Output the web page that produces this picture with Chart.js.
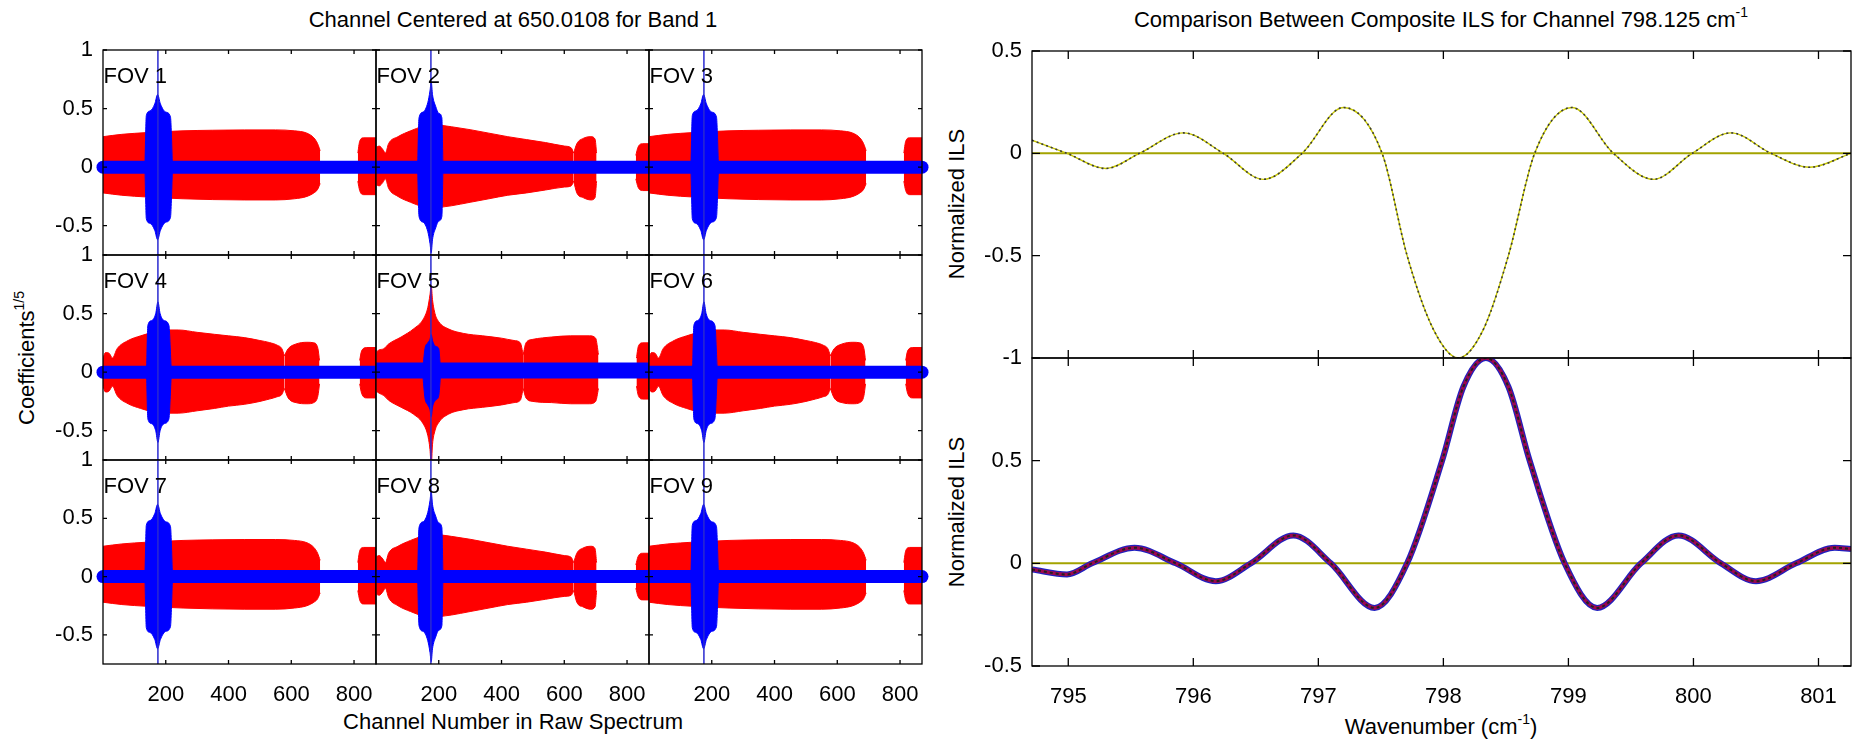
<!DOCTYPE html>
<html>
<head>
<meta charset="utf-8">
<script src="https://cdn.jsdelivr.net/npm/chart.js@4.4.0/dist/chart.umd.min.js"></script>
<style>
  body { margin: 0; background: #fff; width: 1861px; height: 742px; position: relative; overflow: hidden; }
  canvas { position: absolute; }
  .t { position: absolute; transform: translateX(-50%); white-space: nowrap; color: #000;
       font: 22px/1 "Liberation Sans", Arial, Helvetica, sans-serif; }
  .r { position: absolute; transform: translate(-50%, -50%) rotate(-90deg); white-space: nowrap; color: #000;
       font: 22px/1 "Liberation Sans", Arial, Helvetica, sans-serif; }
  sup { font-size: 14px; line-height: 0; vertical-align: 10px; }
</style>
</head>
<body>
<div class="t" style="left:513px;top:9px">Channel Centered at 650.0108 for Band 1</div>
<div class="t" style="left:1441px;top:9px">Comparison Between Composite ILS for Channel 798.125 cm<sup>-1</sup></div>
<div class="t" style="left:513px;top:711px">Channel Number in Raw Spectrum</div>
<div class="t" style="left:1441px;top:716px">Wavenumber (cm<sup>-1</sup>)</div>
<div class="r" style="left:27px;top:358px">Coefficients<sup>1/5</sup></div>
<div class="r" style="left:957px;top:204px">Normalized ILS</div>
<div class="r" style="left:957px;top:512px">Normalized ILS</div>

<script>
// ---- left block: 3x3 FOV panels, coefficients vs raw channel ----
const channelMin = 0, channelMax = 870;
const coefMin = -0.75, coefMax = 1;
const channelTicks = [200, 400, 600, 800];
const coefTicks = [-0.5, 0, 0.5, 1];
const fovNames = ['FOV 1', 'FOV 2', 'FOV 3', 'FOV 4', 'FOV 5', 'FOV 6', 'FOV 7', 'FOV 8', 'FOV 9'];
const fovShape = ['corner', 'edge', 'corner', 'side', 'center', 'side', 'corner', 'edge', 'corner'];
const bandLevel = [0, 0, 0, 0, 0.015, 0, 0, 0, 0];
const spikeChannel = 175;

// corner FOVs (1, 3, 7, 9)
const cornerMainCh  = [0, 60, 140, 255, 350, 450, 550, 610, 650, 672, 684, 692];
const cornerMainTop = [0.26, 0.28, 0.295, 0.31, 0.315, 0.318, 0.318, 0.31, 0.29, 0.25, 0.2, 0.14];
const cornerMainBot = [-0.22, -0.24, -0.255, -0.27, -0.277, -0.28, -0.28, -0.27, -0.25, -0.22, -0.19, -0.14];
const cornerTailCh  = [812, 818, 830, 870];
const cornerTailTop = [0.12, 0.22, 0.25, 0.25];
const cornerTailBot = [-0.12, -0.2, -0.235, -0.235];
const cornerBlueCh  = [134, 138, 150, 165, 174, 183, 200, 215, 221];
const cornerBlueTop = [0.05, 0.44, 0.48, 0.54, 0.62, 0.54, 0.47, 0.43, 0.05];
const cornerBlueBot = [-0.05, -0.44, -0.48, -0.54, -0.62, -0.54, -0.47, -0.43, -0.05];

// top / bottom edge FOVs (2, 8)
const edgeMainCh  = [0, 10, 22, 30, 40, 70, 110, 150, 175, 200, 240, 300, 360, 420, 480, 540, 600, 622, 630];
const edgeMainTop = [0.17, 0.18, 0.15, 0.12, 0.2, 0.26, 0.31, 0.35, 0.37, 0.36, 0.345, 0.32, 0.29, 0.26, 0.235, 0.21, 0.18, 0.165, 0.12];
const edgeMainBot = [-0.15, -0.16, -0.13, -0.1, -0.18, -0.25, -0.3, -0.34, -0.36, -0.345, -0.33, -0.3, -0.27, -0.24, -0.22, -0.195, -0.17, -0.16, -0.12];
const edgeLobeCh  = [630, 640, 660, 685, 698, 703];
const edgeLobeTop = [0.12, 0.2, 0.245, 0.26, 0.24, 0.12];
const edgeLobeBot = [-0.12, -0.22, -0.26, -0.28, -0.26, -0.12];
const edgeTailCh  = [828, 835, 850, 870];
const edgeTailTop = [0.1, 0.17, 0.2, 0.2];
const edgeTailBot = [-0.1, -0.17, -0.2, -0.2];
const edgeBlueCh  = [133, 137, 150, 165, 172, 176, 180, 190, 200, 210, 213];
const edgeBlueTop = [0.05, 0.42, 0.47, 0.55, 0.65, 0.73, 0.62, 0.52, 0.46, 0.42, 0.05];
const edgeBlueBot = [-0.05, -0.42, -0.47, -0.55, -0.65, -0.73, -0.62, -0.52, -0.46, -0.42, -0.05];

// left / right side FOVs (4, 6)
const sideMainCh  = [0, 8, 20, 30, 45, 80, 120, 160, 200, 240, 300, 355, 400, 450, 500, 530, 555, 570, 578];
const sideMainTop = [0.12, 0.167, 0.16, 0.12, 0.2, 0.27, 0.31, 0.34, 0.36, 0.36, 0.34, 0.323, 0.31, 0.295, 0.27, 0.253, 0.23, 0.2, 0.14];
const sideMainBot = [-0.12, -0.17, -0.16, -0.12, -0.2, -0.27, -0.31, -0.34, -0.35, -0.35, -0.33, -0.31, -0.29, -0.275, -0.25, -0.23, -0.21, -0.19, -0.14];
const sideLobeCh  = [578, 590, 615, 650, 672, 685, 690];
const sideLobeTop = [0.14, 0.2, 0.24, 0.255, 0.25, 0.2, 0.1];
const sideLobeBot = [-0.14, -0.22, -0.26, -0.27, -0.26, -0.2, -0.1];
const sideTailCh  = [818, 824, 840, 870];
const sideTailTop = [0.1, 0.18, 0.21, 0.21];
const sideTailBot = [-0.1, -0.18, -0.22, -0.22];
const sideBlueCh  = [139, 143, 155, 168, 175, 182, 195, 210, 217];
const sideBlueTop = [0.05, 0.4, 0.44, 0.5, 0.6, 0.5, 0.44, 0.4, 0.05];
const sideBlueBot = [-0.05, -0.4, -0.44, -0.5, -0.6, -0.5, -0.44, -0.4, -0.05];

// centre FOV (5)
const centerMainCh  = [0, 10, 25, 40, 80, 120, 150, 165, 172, 176, 180, 188, 200, 230, 280, 340, 400, 440, 460, 469];
const centerMainTop = [0.17, 0.19, 0.2, 0.24, 0.3, 0.37, 0.45, 0.55, 0.66, 0.74, 0.62, 0.5, 0.43, 0.37, 0.33, 0.31, 0.29, 0.27, 0.25, 0.15];
const centerMainBot = [-0.16, -0.18, -0.2, -0.24, -0.3, -0.36, -0.44, -0.54, -0.66, -0.8, -0.62, -0.5, -0.43, -0.36, -0.32, -0.3, -0.28, -0.26, -0.24, -0.14];
const centerLobeCh  = [469, 478, 500, 560, 620, 680, 700, 709];
const centerLobeTop = [0.15, 0.25, 0.28, 0.3, 0.31, 0.31, 0.29, 0.15];
const centerLobeBot = [-0.14, -0.22, -0.25, -0.26, -0.27, -0.27, -0.25, -0.14];
const centerTailCh  = [830, 836, 850, 870];
const centerTailTop = [0.12, 0.22, 0.25, 0.25];
const centerTailBot = [-0.12, -0.2, -0.23, -0.23];
const centerBlueCh  = [150, 156, 165, 172, 176, 180, 190, 200, 205];
const centerBlueTop = [0.05, 0.2, 0.25, 0.28, 0.32, 0.27, 0.22, 0.2, 0.05];
const centerBlueBot = [-0.05, -0.22, -0.28, -0.32, -0.38, -0.3, -0.24, -0.2, -0.05];

// ---- right block: composite ILS vs wavenumber ----
const waveMin = 794.71, waveMax = 801.26;
const waveTicks = [795, 796, 797, 798, 799, 800, 801];
const ilsTopTicks = [-1, -0.5, 0, 0.5];
const ilsBottomTicks = [-0.5, 0, 0.5];
const topWave = [794.71, 794.99, 795.3, 795.57, 795.92, 796.24, 796.56, 796.87, 797.2, 797.51, 797.71, 797.92, 798.12, 798.32, 798.52, 798.73, 799.03, 799.36, 799.68, 799.99, 800.3, 800.62, 800.93, 801.26];
const topIls  = [0.064, 0, -0.074, 0, 0.1, 0, -0.127, 0, 0.224, 0, -0.5, -0.86, -1.0, -0.86, -0.5, 0, 0.224, 0, -0.127, 0, 0.1, 0, -0.068, 0];
const bottomWave = [794.71, 794.99, 795.19, 795.53, 795.86, 796.18, 796.46, 796.8, 797.1, 797.45, 797.71, 797.99, 798.16, 798.34, 798.52, 798.69, 798.97, 799.23, 799.58, 799.88, 800.22, 800.5, 800.82, 801.13, 801.26];
const bottomIls  = [-0.03, -0.054, 0, 0.076, 0, -0.087, 0, 0.136, 0, -0.217, 0, 0.5, 0.86, 1.0, 0.86, 0.5, 0, -0.217, 0, 0.136, 0, -0.087, 0, 0.076, 0.07];

Chart.defaults.font.family = '"Liberation Sans", Arial, Helvetica, sans-serif';
Chart.defaults.font.size = 22;
Chart.defaults.color = '#000';

const shapes = {
  corner: { red: [[cornerMainCh, cornerMainTop, cornerMainBot], [cornerTailCh, cornerTailTop, cornerTailBot]],
            blue: [cornerBlueCh, cornerBlueTop, cornerBlueBot] },
  edge:   { red: [[edgeMainCh, edgeMainTop, edgeMainBot], [edgeLobeCh, edgeLobeTop, edgeLobeBot], [edgeTailCh, edgeTailTop, edgeTailBot]],
            blue: [edgeBlueCh, edgeBlueTop, edgeBlueBot] },
  side:   { red: [[sideMainCh, sideMainTop, sideMainBot], [sideLobeCh, sideLobeTop, sideLobeBot], [sideTailCh, sideTailTop, sideTailBot]],
            blue: [sideBlueCh, sideBlueTop, sideBlueBot] },
  center: { red: [[centerMainCh, centerMainTop, centerMainBot], [centerLobeCh, centerLobeTop, centerLobeBot], [centerTailCh, centerTailTop, centerTailBot]],
            blue: [centerBlueCh, centerBlueTop, centerBlueBot] }
};

// box, inward ticks and the FOV name
const framePlugin = {
  id: 'frame',
  afterDatasetsDraw(chart, args, opts) {
    const { ctx, chartArea: a } = chart;
    const x = chart.scales.x, y = chart.scales.y;
    ctx.save();
    ctx.strokeStyle = '#000';
    ctx.lineWidth = 1.3;
    ctx.strokeRect(a.left, a.top, a.right - a.left, a.bottom - a.top);
    ctx.beginPath();
    opts.xTicks.forEach(v => {
      const px = x.getPixelForValue(v);
      ctx.moveTo(px, a.bottom); ctx.lineTo(px, a.bottom - opts.len);
      ctx.moveTo(px, a.top); ctx.lineTo(px, a.top + opts.len);
    });
    opts.yTicks.forEach(v => {
      const py = y.getPixelForValue(v);
      ctx.moveTo(a.left, py); ctx.lineTo(a.left + opts.len, py);
      ctx.moveTo(a.right, py); ctx.lineTo(a.right - opts.len, py);
    });
    ctx.stroke();
    if (opts.label) {
      ctx.fillStyle = '#000';
      ctx.font = '22px "Liberation Sans", Arial, sans-serif';
      ctx.textBaseline = 'alphabetic';
      ctx.fillText(opts.label, a.left + 0.5, a.top + 33);
    }
    ctx.restore();
  }
};

function addCanvas(left, top, width, height) {
  const c = document.createElement('canvas');
  c.width = width; c.height = height;
  c.style.left = left + 'px'; c.style.top = top + 'px';
  c.style.width = width + 'px'; c.style.height = height + 'px';
  document.body.appendChild(c);
  return c;
}

function panel(rect, p) {
  const M = 30;
  const yw = p.yLabels ? 60 : 0;
  const xh = p.xLabels ? 50 : 0;
  const padL = p.yLabels ? 0 : M;
  const padB = p.xLabels ? 0 : M;
  const cv = addCanvas(rect.l - yw - padL, rect.t - M, rect.w + yw + padL + M, rect.h + M + xh + padB);
  new Chart(cv, {
    type: 'line',
    data: { datasets: p.datasets },
    options: {
      responsive: false,
      animation: false,
      devicePixelRatio: 1,
      layout: { padding: { left: padL, right: M, top: M, bottom: padB } },
      elements: { point: { radius: 0 }, line: { cubicInterpolationMode: 'monotone' } },
      plugins: {
        legend: { display: false },
        tooltip: { enabled: false },
        frame: { xTicks: p.xTicks, yTicks: p.yTicks, len: p.tickLen, label: p.label }
      },
      scales: {
        x: {
          type: 'linear', min: p.xMin, max: p.xMax,
          grid: { display: false, drawTicks: false }, border: { display: false },
          ticks: { display: p.xLabels, padding: 18, callback: v => String(v) },
          afterBuildTicks: s => { s.ticks = p.xTicks.map(v => ({ value: v })); },
          afterFit: s => { s.height = xh; }
        },
        y: {
          type: 'linear', min: p.yMin, max: p.yMax,
          grid: { display: false, drawTicks: false }, border: { display: false },
          ticks: { display: p.yLabels, padding: 10, callback: v => String(v) },
          afterBuildTicks: s => { s.ticks = p.yTicks.map(v => ({ value: v })); },
          afterFit: s => { s.width = yw; }
        }
      }
    },
    plugins: [framePlugin]
  });
}

function envelope(ch, top, bot, color, order) {
  return [
    { data: ch.map((c, i) => ({ x: c, y: top[i] })), borderColor: color, backgroundColor: color,
      borderWidth: 1, fill: '+1', order },
    { data: ch.map((c, i) => ({ x: c, y: bot[i] })), borderColor: color, borderWidth: 1, fill: false, order }
  ];
}

// left block geometry
const colLeft = [103, 376, 649], colW = 273;
const rowTop = [50, 255, 460], rowH = [205, 205, 204];

fovNames.forEach((name, k) => {
  const row = Math.floor(k / 3), col = k % 3;
  const shape = shapes[fovShape[k]];
  let ds = [];
  shape.red.forEach(piece => { ds = ds.concat(envelope(piece[0], piece[1], piece[2], '#ff0000', 5)); });
  ds.push({
    data: [{ x: channelMin, y: bandLevel[k] }, { x: channelMax, y: bandLevel[k] }],
    borderColor: '#0000ff', borderWidth: k === 4 ? 16 : 13, borderCapStyle: 'round', fill: false, order: 3,
    clip: { left: col === 0 ? 8 : 0, right: col === 2 ? 8 : 0, top: 0, bottom: 0 }
  });
  ds = ds.concat(envelope(shape.blue[0], shape.blue[1], shape.blue[2], '#0000ff', 2));
  ds.push({
    data: [{ x: spikeChannel, y: -2 }, { x: spikeChannel, y: 2 }],
    borderColor: '#2a2ad0', borderWidth: 1.5, fill: false, order: 1
  });
  panel({ l: colLeft[col], t: rowTop[row], w: colW, h: rowH[row] }, {
    datasets: ds,
    xMin: channelMin, xMax: channelMax, yMin: coefMin, yMax: coefMax,
    xTicks: channelTicks, yTicks: coefTicks, tickLen: 4,
    xLabels: row === 2, yLabels: col === 0, label: name
  });
});

// right block
const pts = (xs, ys) => xs.map((v, i) => ({ x: v, y: ys[i] }));
const zeroLine = (color, w) => ({
  data: [{ x: waveMin, y: 0 }, { x: waveMax, y: 0 }], borderColor: color, borderWidth: w, fill: false, order: 4
});

panel({ l: 1032, t: 51, w: 819, h: 307 }, {
  datasets: [
    zeroLine('#a3a300', 2),
    { data: pts(topWave, topIls), borderColor: '#c8c800', borderWidth: 1.4, fill: false, order: 2 },
    { data: pts(topWave, topIls), borderColor: '#3a3a3a', borderWidth: 1.6, borderDash: [2, 3], fill: false, order: 1 }
  ],
  xMin: waveMin, xMax: waveMax, yMin: -1, yMax: 0.5,
  xTicks: waveTicks, yTicks: ilsTopTicks, tickLen: 8,
  xLabels: false, yLabels: true
});

panel({ l: 1032, t: 358, w: 819, h: 308 }, {
  datasets: [
    zeroLine('#a3a300', 2),
    { data: pts(bottomWave, bottomIls), borderColor: '#2020c0', borderWidth: 6, fill: false, order: 3 },
    { data: pts(bottomWave, bottomIls), borderColor: 'rgba(200,0,40,0.75)', borderWidth: 3.5, fill: false, order: 2 },
    { data: pts(bottomWave, bottomIls), borderColor: '#222', borderWidth: 2, borderDash: [3, 3], fill: false, order: 1 }
  ],
  xMin: waveMin, xMax: waveMax, yMin: -0.5, yMax: 1,
  xTicks: waveTicks, yTicks: ilsBottomTicks, tickLen: 8,
  xLabels: true, yLabels: true
});
</script>
</body>
</html>
